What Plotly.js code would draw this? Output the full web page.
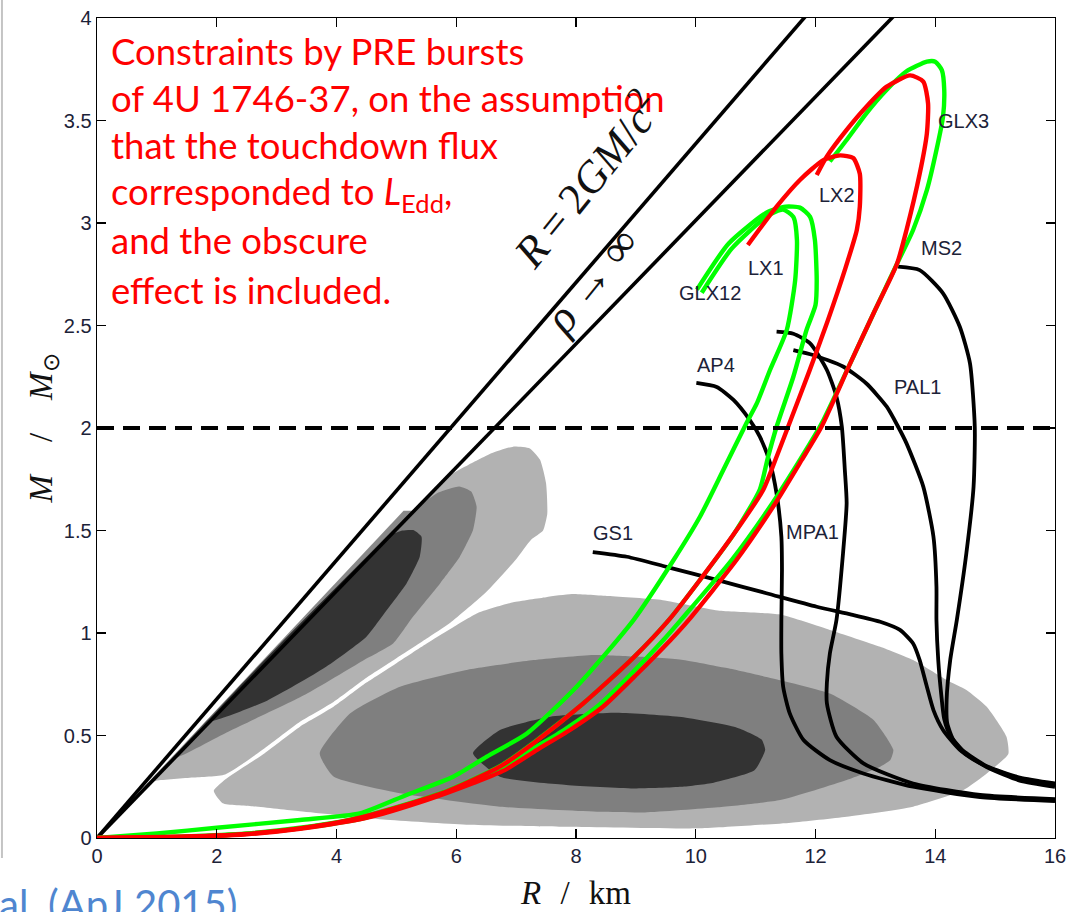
<!DOCTYPE html>
<html><head><meta charset="utf-8">
<script src="https://cdn.plot.ly/plotly-3.0.1.min.js"></script>
<style>html,body{margin:0;padding:0;background:#fff;}#chart{width:1069px;height:912px;}</style>
</head><body><div id="chart"></div>
<script>
// ---------- axis ticks ----------
const xTickVals = [0, 2, 4, 6, 8, 10, 12, 14, 16];
const yTickVals = [0, 0.5, 1, 1.5, 2, 2.5, 3, 3.5, 4];
const yTickText = ['0', '0.5', '1', '1.5', '2', '2.5', '3', '3.5', '4'];

// ---------- limit lines ----------
const bhLineR = [0, 12.40];   const bhLineM = [0, 4.2];    // R = 2GM/c^2
const rhoLineR = [0, 13.94];  const rhoLineM = [0, 4.2];   // rho -> infinity
const twoSolarR = [0, 16];    const twoSolarM = [2, 2];

// ---------- probability contours (upper-left family) ----------
const lightA_R = [0.9, 5.85, 6.2, 6.6, 6.95, 7.23, 7.4, 7.5, 7.52, 7.45, 7.25, 7.0, 6.5, 5.9, 5.5, 5.0, 4.5, 3.95, 3.39, 2.8, 2.14, 1.6, 1.0, 0.9];
const lightA_M = [0.271, 1.762, 1.82, 1.878, 1.909, 1.9, 1.845, 1.73, 1.58, 1.5, 1.455, 1.36, 1.2, 1.05, 0.972, 0.877, 0.782, 0.664, 0.567, 0.438, 0.31, 0.295, 0.28, 0.271];
const smearR = [0.7, 5.3, 5.12, 0.66];
const smearM = [0.211, 1.596, 1.596, 0.211];
const midA_R = [1.3, 5.35, 5.7, 6.05, 6.25, 6.34, 6.28, 6.06, 5.73, 5.28, 4.95, 4.44, 3.48, 2.2, 1.3];
const midA_M = [0.392, 1.611, 1.685, 1.715, 1.69, 1.616, 1.502, 1.372, 1.242, 1.08, 0.95, 0.865, 0.70, 0.52, 0.392];
const darkA_R = [1.9, 4.9, 5.1, 5.28, 5.42, 5.39, 5.17, 4.84, 4.5, 3.8, 2.84, 1.9];
const darkA_M = [0.572, 1.476, 1.50, 1.502, 1.47, 1.372, 1.242, 1.112, 0.982, 0.83, 0.67, 0.572];

// ---------- probability contours (lower family) ----------
const lightB_R = [1.95, 2.14, 2.8, 3.39, 3.95, 4.5, 5.0, 5.5, 5.9, 6.36, 6.95, 7.5, 7.93, 8.54, 9.45, 10.37, 11.41, 12.24, 13.08, 13.63, 14.19, 14.52, 14.86, 15.19, 15.22, 14.86, 14.47, 13.63, 12.52, 11.59, 10.07, 7.84, 6.17, 4.78, 3.39, 2.6, 2.1, 1.95];
const lightB_M = [0.23, 0.285, 0.414, 0.543, 0.64, 0.758, 0.853, 0.948, 1.02, 1.098, 1.15, 1.175, 1.19, 1.18, 1.16, 1.11, 1.09, 1.015, 0.933, 0.868, 0.771, 0.722, 0.64, 0.494, 0.41, 0.315, 0.234, 0.153, 0.104, 0.075, 0.047, 0.055, 0.065, 0.09, 0.13, 0.155, 0.17, 0.23];
const midB_R = [3.72, 4.23, 5.06, 6.17, 7.29, 8.29, 9.0, 9.76, 10.5, 11.41, 12.24, 12.97, 13.3, 13.25, 13.08, 12.52, 11.41, 10.37, 9.15, 8.4, 6.73, 5.06, 3.95, 3.72];
const midB_M = [0.413, 0.608, 0.738, 0.82, 0.868, 0.893, 0.885, 0.87, 0.83, 0.77, 0.705, 0.576, 0.43, 0.38, 0.348, 0.283, 0.185, 0.15, 0.125, 0.128, 0.153, 0.218, 0.3, 0.413];
const darkB_R = [6.28, 6.73, 7.57, 8.68, 9.76, 10.67, 11.1, 11.16, 10.98, 10.3, 9.76, 8.96, 7.84, 6.73, 6.28];
const darkB_M = [0.413, 0.527, 0.592, 0.611, 0.59, 0.54, 0.48, 0.43, 0.33, 0.27, 0.25, 0.242, 0.259, 0.299, 0.413];

// ---------- EOS mass-radius curves (black) ----------
const ap4_R = [10.01, 10.35, 10.63, 10.9, 11.07, 11.24, 11.35, 11.43, 11.44, 11.43, 11.43, 11.46, 11.57, 11.8, 12.24, 12.8, 13.63, 14.75, 16.0];
const ap4_M = [2.22, 2.20, 2.137, 2.04, 1.958, 1.83, 1.68, 1.47, 1.307, 1.063, 0.9, 0.738, 0.608, 0.478, 0.38, 0.315, 0.25, 0.2, 0.18];
const mpa1_R = [11.35, 11.63, 11.91, 12.19, 12.35, 12.44, 12.49, 12.52, 12.46, 12.35, 12.24, 12.19, 12.19, 12.35, 12.8, 13.63, 14.75, 16.0];
const mpa1_M = [2.47, 2.46, 2.413, 2.283, 2.153, 2.006, 1.795, 1.633, 1.39, 1.063, 0.9, 0.757, 0.657, 0.494, 0.364, 0.266, 0.21, 0.19];
const gs1_R = [8.28, 8.85, 9.51, 10.35, 11.18, 12.02, 12.6, 13.08, 13.41, 13.63, 13.74, 13.86, 13.97, 14.13, 14.41, 14.86, 15.41, 16.0];
const gs1_M = [1.395, 1.372, 1.323, 1.259, 1.194, 1.128, 1.09, 1.055, 1.015, 0.949, 0.868, 0.738, 0.624, 0.527, 0.43, 0.348, 0.291, 0.262];
const pal1_R = [11.63, 11.96, 12.46, 12.85, 13.19, 13.38, 13.52, 13.8, 13.97, 14.02, 14.02, 14.05, 14.1, 14.15, 14.25, 14.45, 14.86, 15.41, 16.0];
const pal1_M = [2.38, 2.356, 2.3, 2.217, 2.104, 2.006, 1.925, 1.714, 1.47, 1.226, 1.063, 0.868, 0.7, 0.58, 0.5, 0.43, 0.35, 0.295, 0.266];
const ms2_R = [13.38, 13.74, 14.13, 14.41, 14.58, 14.66, 14.64, 14.52, 14.36, 14.25, 14.19, 14.2, 14.3, 14.5, 14.9, 15.41, 16.0];
const ms2_M = [2.787, 2.77, 2.657, 2.494, 2.315, 2.006, 1.714, 1.39, 1.063, 0.868, 0.673, 0.56, 0.48, 0.41, 0.34, 0.28, 0.25];

// ---------- PRE-burst constraint curves ----------
const glx12a_R = [0, 1.0, 2.0, 3.39, 4.39, 5.17, 5.95, 6.51, 7.18, 8.01, 8.96, 9.63, 10.07, 10.46, 10.84, 11.02, 11.24, 11.52, 11.66, 11.69, 11.63, 11.46, 11.2, 10.6, 10.1];
const glx12a_M = [0, 0.022, 0.05, 0.088, 0.12, 0.21, 0.299, 0.397, 0.51, 0.738, 1.063, 1.356, 1.567, 1.795, 2.02, 2.12, 2.283, 2.478, 2.72, 2.917, 3.03, 3.065, 3.035, 2.875, 2.66];
const glx12b_R = [0, 1.5, 2.5, 3.39, 4.23, 5.06, 5.9, 6.73, 7.29, 8.12, 8.96, 9.57, 10.1, 10.63, 11.07, 11.2, 11.35, 11.63, 11.85, 12.0, 12.02, 11.99, 11.91, 11.74, 11.5, 11.18, 10.55, 10.02];
const glx12b_M = [0, 0.008, 0.022, 0.05, 0.09, 0.155, 0.236, 0.35, 0.465, 0.656, 0.88, 1.07, 1.27, 1.48, 1.70, 1.85, 2.006, 2.25, 2.478, 2.6, 2.72, 2.917, 3.03, 3.075, 3.08, 3.05, 2.9, 2.675];
const glx3_R = [0, 1.5, 2.5, 3.39, 4.5, 5.5, 6.3, 6.7, 7.25, 7.8, 8.35, 8.92, 9.46, 9.75, 10.6, 11.28, 11.74, 12.1, 12.58, 12.97, 13.36, 13.63, 13.86, 14.02, 14.13, 14.15, 14.11, 14.0, 13.86, 13.52, 13.19, 12.85, 12.52, 12.24];
const glx3_M = [0, 0.006, 0.02, 0.047, 0.1, 0.19, 0.28, 0.33, 0.43, 0.527, 0.64, 0.80, 0.966, 1.063, 1.356, 1.633, 1.844, 2.02, 2.315, 2.56, 2.80, 2.966, 3.16, 3.356, 3.52, 3.65, 3.746, 3.787, 3.787, 3.74, 3.65, 3.535, 3.405, 3.30];
const lx1_R = [0, 1.5, 2.5, 3.39, 4.23, 5.06, 5.9, 6.73, 7.29, 8.12, 8.96, 9.57, 10.1, 10.63, 11.13, 11.35, 11.6, 11.9, 12.2, 12.5, 12.69, 12.74, 12.74, 12.63, 12.41, 12.13, 11.74, 11.35, 10.87];
const lx1_M = [0, 0.007, 0.02, 0.047, 0.088, 0.153, 0.234, 0.348, 0.462, 0.656, 0.88, 1.07, 1.27, 1.48, 1.70, 1.86, 2.05, 2.28, 2.52, 2.78, 2.966, 3.08, 3.24, 3.317, 3.33, 3.307, 3.21, 3.08, 2.893];
const lx2_R = [0, 1.5, 2.5, 3.39, 4.5, 5.5, 6.3, 6.8, 7.35, 7.9, 8.45, 9.02, 9.58, 9.88, 10.68, 11.33, 11.77, 12.1, 12.58, 12.97, 13.36, 13.52, 13.74, 13.86, 13.88, 13.8, 13.58, 13.19, 12.85, 12.52, 12.19, 12.02];
const lx2_M = [0, 0.006, 0.018, 0.045, 0.098, 0.185, 0.27, 0.33, 0.43, 0.527, 0.64, 0.80, 0.966, 1.063, 1.356, 1.633, 1.844, 2.006, 2.315, 2.56, 2.80, 2.966, 3.24, 3.437, 3.583, 3.69, 3.72, 3.665, 3.567, 3.454, 3.325, 3.234];

// ---------- curve labels ----------
const labelNames = ['GLX12', 'LX1', 'LX2', 'GLX3', 'MS2', 'AP4', 'PAL1', 'MPA1', 'GS1'];
const labelR = [10.24, 11.17, 12.36, 14.47, 14.1, 10.34, 13.71, 11.95, 8.62];
const labelM = [2.66, 2.78, 3.137, 3.50, 2.88, 2.307, 2.2, 1.494, 1.488];

// ---------- note text ----------
const noteLines = ['Constraints by PRE bursts', 'of 4U 1746-37, on the assumption', 'that the touchdown flux',
  'corresponded to <i>L</i><sub>Edd</sub>,', 'and the obscure', 'effect is included.'];
const noteM = [3.839, 3.61, 3.38, 3.145, 2.917, 2.673];

// ================= build =================
const traces = [];
function blob(R, M, color) {
  traces.push({x: R, y: M, type: 'scatter', mode: 'lines', fill: 'toself', fillcolor: color,
    line: {width: 0, shape: 'spline', smoothing: 0.5, color: color}, hoverinfo: 'skip', showlegend: false});
}
function curve(R, M, color, width, dash) {
  traces.push({x: R, y: M, type: 'scatter', mode: 'lines',
    line: {color: color, width: width, shape: 'spline', smoothing: 0.6, dash: dash || 'solid'},
    hoverinfo: 'skip', showlegend: false});
}
const cLight = '#b2b2b2', cMid = '#7f7f7f', cDark = '#333333';
blob(lightB_R, lightB_M, cLight);
blob(lightA_R, lightA_M, cLight);
blob(midB_R, midB_M, cMid);
blob(midA_R, midA_M, cMid);
blob(darkB_R, darkB_M, cDark);
blob(darkA_R, darkA_M, cDark);
traces.push({x: smearR, y: smearM, type: 'scatter', mode: 'lines', fill: 'toself', fillcolor: 'rgba(40,40,40,0.55)',
  line: {width: 0}, hoverinfo: 'skip', showlegend: false});

traces.push({x: bhLineR, y: bhLineM, type: 'scatter', mode: 'lines', line: {color: '#000', width: 3.6}, hoverinfo: 'skip', showlegend: false});
traces.push({x: rhoLineR, y: rhoLineM, type: 'scatter', mode: 'lines', line: {color: '#000', width: 3.6}, hoverinfo: 'skip', showlegend: false});

curve(ap4_R, ap4_M, '#000', 3.8);
curve(mpa1_R, mpa1_M, '#000', 3.8);
curve(gs1_R, gs1_M, '#000', 3.8);
curve(pal1_R, pal1_M, '#000', 3.8);
curve(ms2_R, ms2_M, '#000', 3.8);

curve(glx12a_R, glx12a_M, '#00ff00', 4.4);
curve(glx12b_R, glx12b_M, '#00ff00', 4.4);
curve(glx3_R, glx3_M, '#00ff00', 4.4);
curve(lx1_R, lx1_M, '#ff0000', 4.4);
curve(lx2_R, lx2_M, '#ff0000', 4.4);

traces.push({x: twoSolarR, y: twoSolarM, type: 'scatter', mode: 'lines', line: {color: '#000', width: 4, dash: '17px,9px'}, hoverinfo: 'skip', showlegend: false});

const annotations = [];
const labFont = {family: 'Liberation Sans, Arial, sans-serif', size: 20, color: '#1c2238'};
labelNames.forEach((t, i) => annotations.push({x: labelR[i], y: labelM[i], xref: 'x', yref: 'y', text: t,
  showarrow: false, xanchor: 'center', yanchor: 'middle', font: labFont}));
noteLines.forEach((t, i) => annotations.push({x: 0.2, y: noteM[i], xref: 'x', yref: 'y', text: t,
  showarrow: false, xanchor: 'left', yanchor: 'middle', font: {family: 'Lato, sans-serif', size: 36.5, color: '#ff0000'}}));
annotations.push({x: 8.17, y: 3.215, xref: 'x', yref: 'y', text: '<i>R</i>\u2009=\u20092<i>GM</i>/<i>c</i><sup>2</sup>',
  showarrow: false, textangle: -51, font: {family: 'Liberation Serif, serif', size: 44, color: '#111'}});
annotations.push({x: 8.25, y: 2.72, xref: 'x', yref: 'y', text: '<i>ρ</i>\u2009→\u2009∞',
  showarrow: false, textangle: -51, font: {family: 'Liberation Serif, serif', size: 46, color: '#111'}});
annotations.push({x: -0.104, y: -0.0488, xref: 'paper', yref: 'paper', text: 'al. (ApJ 2015)', showarrow: false,
  xanchor: 'left', yanchor: 'top', font: {family: 'Lato, sans-serif', size: 40, color: '#4f86d0'}});

const tickFont = {family: 'Liberation Sans, Arial, sans-serif', size: 20, color: '#1c2238'};
const layout = {
  width: 1069, height: 912,
  margin: {l: 97, r: 14, t: 18, b: 74, pad: 0},
  paper_bgcolor: '#fff', plot_bgcolor: '#fff',
  showlegend: false,
  xaxis: {range: [0, 16], tickvals: xTickVals, ticks: 'inside', ticklen: 9, tickwidth: 1.2, tickcolor: '#000',
    showline: true, linecolor: '#000', linewidth: 1.4, mirror: 'ticks', showgrid: false, zeroline: false,
    tickfont: tickFont, fixedrange: true,
    title: {text: '<i>R</i>\u2002\u200a/\u2002\u200akm', font: {family: 'Liberation Serif, serif', size: 33, color: '#111'}, standoff: 14}},
  yaxis: {range: [0, 4], tickvals: yTickVals, ticktext: yTickText, ticks: 'inside', ticklen: 9, tickwidth: 1.2, tickcolor: '#000',
    showline: true, linecolor: '#000', linewidth: 1.4, mirror: 'ticks', showgrid: false, zeroline: false,
    tickfont: tickFont, fixedrange: true,
    title: {text: '<i>M</i>\u2003/\u2003<i>M</i><sub>⊙</sub>', font: {family: 'Liberation Serif, serif', size: 33, color: '#111'}, standoff: 1}},
  annotations: annotations,
  shapes: [{type: 'line', xref: 'paper', yref: 'paper', x0: -0.0992, x1: -0.0992, y0: 1.03, y1: -0.0244,
    line: {color: '#c4c4c4', width: 2}}]
};
Plotly.newPlot('chart', traces, layout, {staticPlot: true, displayModeBar: false});
</script></body></html>
